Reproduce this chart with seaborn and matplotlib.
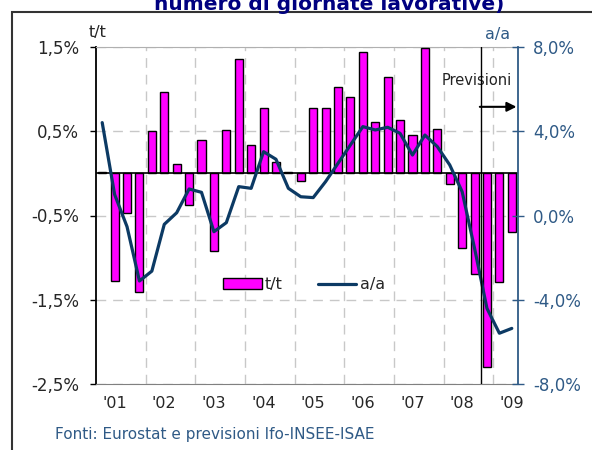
import matplotlib
matplotlib.use("Agg")
import matplotlib.pyplot as plt
from matplotlib.patches import Patch, Rectangle
from matplotlib.lines import Line2D
import seaborn as sns
import numpy as np
import pandas as pd

# quarterly data 2001Q1 - 2009Q2
years = ['01', '02', '03', '04', '05', '06', '07', '08', '09']
quarters = [f"20{y}Q{q}" for y in years for q in range(1, 5)][:34]
tt = [0.02, -1.28, -0.47, -1.41, 0.50, 0.96, 0.11, -0.37,
      0.40, -0.92, 0.52, 1.36, 0.34, 0.78, 0.13, 0.02,
      -0.09, 0.78, 0.78, 1.02, 0.91, 1.44, 0.61, 1.14,
      0.63, 0.46, 1.49, 0.53, -0.13, -0.88, -1.19, -2.30,
      -1.29, -0.70]
aa = [4.41, 1.00, -0.53, -3.11, -2.64, -0.42, 0.13, 1.26,
      1.10, -0.77, -0.34, 1.37, 1.29, 3.03, 2.67, 1.29,
      0.89, 0.85, 1.61, 2.48, 3.35, 4.22, 4.06, 4.19,
      3.90, 2.87, 3.82, 3.27, 2.40, 1.13, -1.56, -4.41,
      -5.59, -5.36]
year_labels = ["'" + y for y in years]
forecast_start = '2008Q4'

left_ticks = [1.5, 0.5, -0.5, -1.5, -2.5]
right_ticks = [8, 4, 0, -4, -8]

df = pd.DataFrame({'quarter': quarters, 'tt': tt, 'aa': aa})
n = len(df)

sns.set_style('white')
plt.rcParams['font.family'] = ['DejaVu Sans']

bar_col = '#ff00ff'
line_col = '#0c3a64'
blue_txt = '#2f5a86'

fig = plt.figure(figsize=(5.92, 4.5), dpi=100)
ax = fig.add_axes([96 / 592, 1 - 384 / 450, 422 / 592, 337 / 450])

sns.barplot(data=df, x='quarter', y='tt', color=bar_col, saturation=1,
            width=0.65, edgecolor='black', linewidth=1, ax=ax, zorder=3)
ax.axhline(0, color='black', lw=1.2, zorder=4)

ax.set_xlim(-0.5, n - 0.5)
ax.set_ylim(-2.5, 1.5)
ax.set_yticks(left_ticks)
ax.set_yticklabels([f"{v:.1f}%".replace('.', ',') for v in left_ticks], fontsize=12)
ax.set_xticks(range(1, n, 4))
ax.set_xticklabels(year_labels[:len(range(1, n, 4))], fontsize=11.5)
ax.set_xticks(np.arange(3.5, n, 4), minor=True)
ax.tick_params(axis='x', which='both', length=0, pad=9)
ax.tick_params(axis='y', direction='out', length=4, width=1, color='black', pad=8)
ax.set_xlabel('')
ax.set_ylabel('')
ax.grid(False)
ax.yaxis.grid(True, color='#c8c8c8', ls=(0, (7, 5)), lw=1)
ax.xaxis.grid(True, which='minor', color='#c8c8c8', ls=(0, (7, 5)), lw=1)
ax.set_axisbelow(True)
ax.spines['left'].set_color('black')
ax.spines['left'].set_linewidth(1.3)
ax.spines['bottom'].set_color('#808080')
ax.spines['top'].set_color('#b0b0b0')
ax.spines['right'].set_visible(False)

ax2 = ax.twinx()
sns.lineplot(x=np.arange(n), y=df['aa'].values, ax=ax2, color=line_col,
             lw=2.3, zorder=5)
ax2.set_ylim(-8, 8)
ax2.set_xlim(-0.5, n - 0.5)
ax2.set_yticks(right_ticks)
ax2.set_yticklabels([f"{v:.1f}%".replace('.', ',') for v in right_ticks],
                    fontsize=12, color=blue_txt)
ax2.tick_params(axis='y', direction='inout', length=8, width=1, color=blue_txt, pad=7)
ax2.spines['right'].set_color(blue_txt)
ax2.spines['right'].set_linewidth(1.3)
for s in ['left', 'top', 'bottom']:
    ax2.spines[s].set_visible(False)
ax2.set_ylabel('')
ax2.grid(False)

# forecast marker
fx = quarters.index(forecast_start) - 0.5
ax2.axvline(fx, color='black', lw=1, zorder=6)
ax.annotate('', xy=(n - 0.4, 0.79), xytext=(fx - 0.3, 0.79),
            arrowprops=dict(arrowstyle='-|>', color='black', lw=1.5,
                            mutation_scale=14), annotation_clip=False, zorder=7)
ax.text(fx - 0.3, 1.10, 'Previsioni', ha='center', va='center', fontsize=10.5,
        color='#222222', zorder=7,
        bbox=dict(facecolor='white', edgecolor='none', pad=1))

handles = [Patch(facecolor=bar_col, edgecolor='black', lw=1, label='t/t'),
           Line2D([0], [0], color=line_col, lw=2.3, label='a/a')]
ax2.legend(handles=handles, loc='center', bbox_to_anchor=(0.493, 0.294), ncol=2,
           frameon=False, fontsize=11.5, handlelength=2.4, handletextpad=0.2,
           columnspacing=2.2)

fig.text(98 / 592, 1 - 33 / 450, 't/t', fontsize=11.5, ha='center', va='center')
fig.text(498 / 592, 1 - 35 / 450, 'a/a', fontsize=11.5, ha='center', va='center',
         color=blue_txt)
fig.text(55 / 592, 1 - 435 / 450, 'Fonti: Eurostat e previsioni Ifo-INSEE-ISAE',
         fontsize=11, ha='left', va='center', color=blue_txt)
fig.text(329 / 592, 1 - 10 / 450, 'numero di giornate lavorative)', fontsize=14.5,
         fontweight='bold', ha='center', va='baseline', color='#000080')

fig.add_artist(Rectangle((12 / 592, -0.2), 1.2, 0.2 + 1 - 12 / 450,
                         transform=fig.transFigure, fill=False,
                         edgecolor='#333333', lw=1.5))

fig.savefig('out.png', dpi=100)
